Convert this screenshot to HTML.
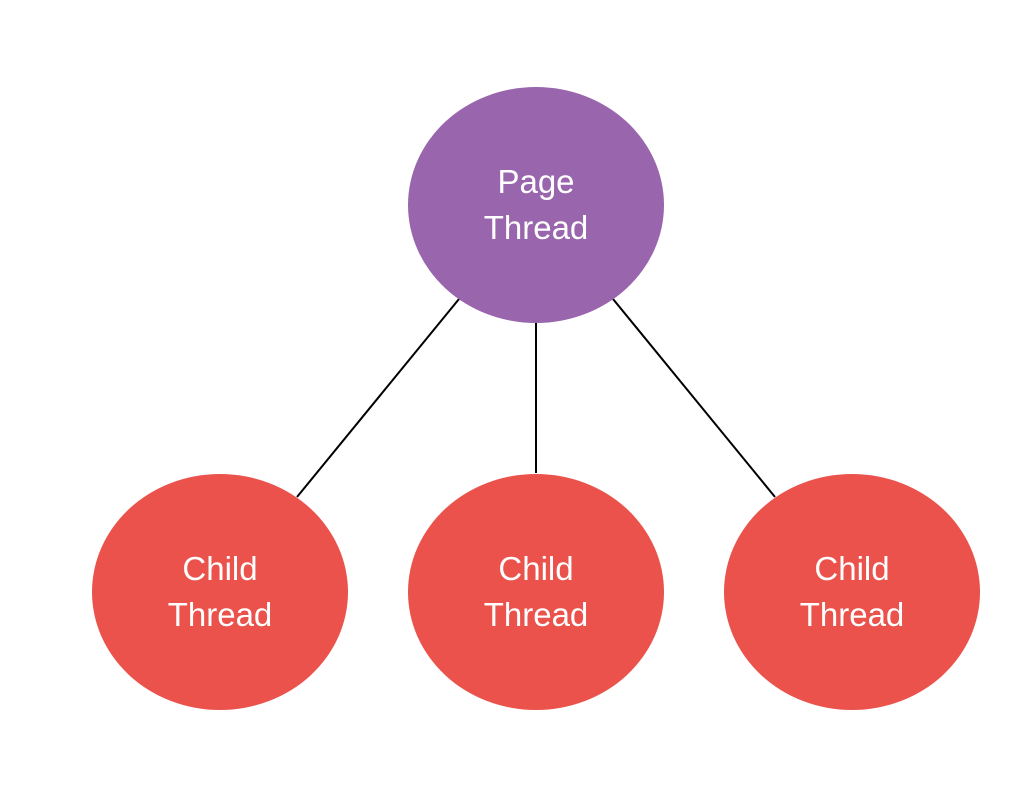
<!DOCTYPE html>
<html><head><style>html,body{margin:0;padding:0;background:#fff;}</style></head>
<body>
<svg width="1036" height="798" viewBox="0 0 1036 798" xmlns="http://www.w3.org/2000/svg">
<rect width="1036" height="798" fill="#fff"/>
<line x1="459" y1="299" x2="297" y2="497" stroke="#000" stroke-width="2"/>
<line x1="536" y1="323" x2="536" y2="473" stroke="#000" stroke-width="2"/>
<line x1="613" y1="299" x2="775" y2="497" stroke="#000" stroke-width="2"/>
<ellipse cx="536" cy="205" rx="128" ry="118" fill="#9966ad"/>
<ellipse cx="220" cy="592" rx="128" ry="118" fill="#ea524b"/>
<ellipse cx="536" cy="592" rx="128" ry="118" fill="#ea524b"/>
<ellipse cx="852" cy="592" rx="128" ry="118" fill="#ea524b"/>
<g font-family="Liberation Sans, sans-serif" font-size="33" fill="#fff" text-anchor="middle">
<text x="536" y="193">Page</text><text x="536" y="239">Thread</text>
<text x="220" y="580">Child</text><text x="220" y="626">Thread</text>
<text x="536" y="580">Child</text><text x="536" y="626">Thread</text>
<text x="852" y="580">Child</text><text x="852" y="626">Thread</text>
</g>
</svg>
</body></html>
